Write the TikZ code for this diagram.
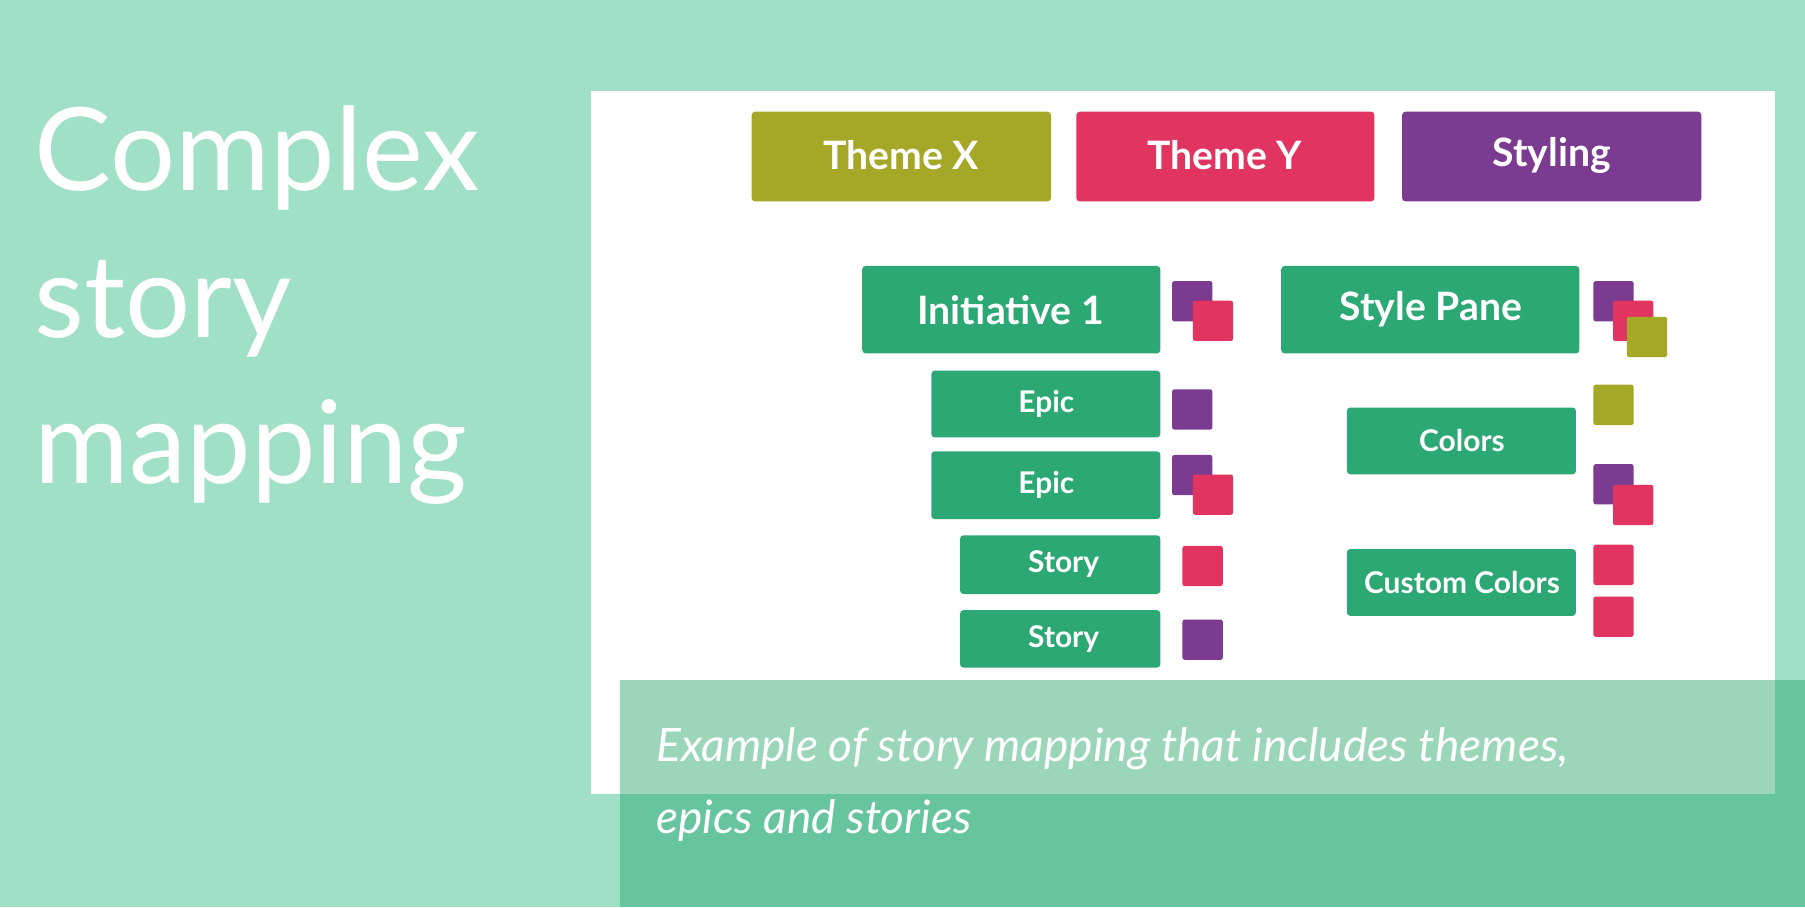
\documentclass[tikz,border=0pt]{standalone}
\usepackage{fontspec}
\setmainfont{Lato}
\definecolor{mint}{HTML}{A0E0C6}
\definecolor{capA}{HTML}{9BD6BA}
\definecolor{capB}{HTML}{66C59E}
\definecolor{olive}{HTML}{A5A726}
\definecolor{pinkc}{HTML}{E23460}
\definecolor{purp}{HTML}{7B3B91}
\definecolor{grn}{HTML}{2BA874}
\begin{document}
\begin{tikzpicture}[x=1pt,y=-1pt,
  box/.style={rounded corners=2pt,text=white,font=\bfseries},
  sq/.style={rounded corners=2pt,minimum size=35pt,inner sep=0pt,anchor=north west}]
\useasboundingbox (0,0) rectangle (1568,788);
\fill[mint] (0,0) rectangle (1568,788);
\fill[white] (513,79) rectangle (1542,690);
\fill[capB] (539,591) rectangle (1568,788);
\fill[capA] (539,591) rectangle (1542,690);
\node[anchor=north west,text=white,font=\fontsize{100}{127}\selectfont,align=left,inner sep=0pt] (title) at (30,92) {Complex\\story\\mapping};
\node[anchor=north west,text=white,font=\itshape\fontsize{40}{62}\selectfont,align=left,inner sep=0pt] (cap) at (570,632) {Example of story mapping that includes themes,\\epics and stories};
\newcommand\bx[7]{\fill[#6,rounded corners=3pt] (#2,#3) rectangle (#4,#5);
  \node[text=white,font=\bfseries\fontsize{#7}{#7}\selectfont] (#1) at ({(#2+#4)/2},{(#3+#5)/2}) {\strut\vphantom{y}#1};}
\fill[olive,rounded corners=3pt] (653,97) rectangle (913,175);
\node[text=white,font=\bfseries\fontsize{34}{34}\selectfont] (tx) at (783,135) {Theme X};
\fill[pinkc,rounded corners=3pt] (935,97) rectangle (1194,175);
\node[text=white,font=\bfseries\fontsize{34}{34}\selectfont] (ty) at (1064,135) {Theme Y};
\fill[purp,rounded corners=3pt] (1218,97) rectangle (1478,175);
\node[text=white,font=\bfseries\fontsize{34}{34}\selectfont] (st) at (1348,135) {Styling};
\fill[grn,rounded corners=3pt] (749,231) rectangle (1008,307);
\node[text=white,font=\bfseries\fontsize{34}{34}\selectfont] (i1) at (878,269) {Initiative 1};
\fill[grn,rounded corners=3pt] (1113,231) rectangle (1372,307);
\node[text=white,font=\bfseries\fontsize{34}{34}\selectfont] (sp) at (1243,269) {Style Pane};
\fill[grn,rounded corners=3pt] (809,322) rectangle (1008,380);
\node[text=white,font=\bfseries\fontsize{26}{26}\selectfont] (e1) at (909,351) {Epic};
\fill[grn,rounded corners=3pt] (809,392) rectangle (1008,451);
\node[text=white,font=\bfseries\fontsize{26}{26}\selectfont] (e2) at (909,421) {Epic};
\fill[grn,rounded corners=3pt] (834,465) rectangle (1008,516);
\node[text=white,font=\bfseries\fontsize{26}{26}\selectfont] (s1) at (924,490) {Story};
\fill[grn,rounded corners=3pt] (834,530) rectangle (1008,580);
\node[text=white,font=\bfseries\fontsize{26}{26}\selectfont] (s2) at (924,555) {Story};
\fill[grn,rounded corners=3pt] (1170,354) rectangle (1369,412);
\node[text=white,font=\bfseries\fontsize{26}{26}\selectfont] (co) at (1270,383) {Colors};
\fill[grn,rounded corners=3pt] (1170,477) rectangle (1369,535);
\node[text=white,font=\bfseries\fontsize{26}{26}\selectfont] (cc) at (1270,506) {Custom Colors};
% squares
\node[sq,fill=purp] (a1) at (1018,244) {};
\node[sq,fill=pinkc] (a2) at (1036,261) {};
\node[sq,fill=purp] (b1) at (1018,338) {};
\node[sq,fill=purp] (c1) at (1018,395) {};
\node[sq,fill=pinkc] (c2) at (1036,412) {};
\node[sq,fill=pinkc] (d1) at (1027,474) {};
\node[sq,fill=purp] (e1s) at (1027,538) {};
\node[sq,fill=purp] (f1) at (1384,244) {};
\node[sq,fill=pinkc] (f2) at (1401,261) {};
\node[sq,fill=olive] (f3) at (1413,275) {};
\node[sq,fill=olive] (g1) at (1384,334) {};
\node[sq,fill=purp] (h1) at (1384,403) {};
\node[sq,fill=pinkc] (h2) at (1401,421) {};
\node[sq,fill=pinkc] (k1) at (1384,473) {};
\node[sq,fill=pinkc] (k2) at (1384,518) {};
\end{tikzpicture}
\end{document}
